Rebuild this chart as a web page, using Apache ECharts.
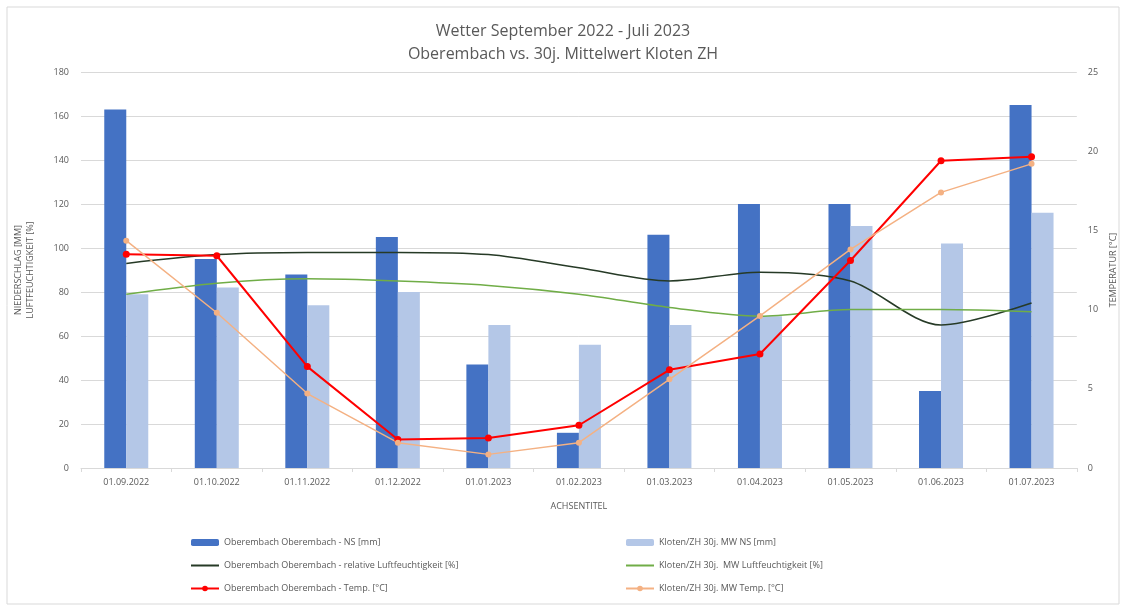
<!DOCTYPE html>
<html><head><meta charset="utf-8">
<script src="https://cdn.jsdelivr.net/npm/echarts@6/dist/echarts.min.js"></script>
<style>html,body{margin:0;padding:0;background:#fff}#c{width:1126px;height:608px}</style>
</head><body><div id="c"></div>
<script>
const categories = ['01.09.2022','01.10.2022','01.11.2022','01.12.2022','01.01.2023','01.02.2023','01.03.2023','01.04.2023','01.05.2023','01.06.2023','01.07.2023'];
const obNS = [163, 95, 88, 105, 47, 16, 106, 120, 120, 35, 165];
const klNS = [79, 82, 74, 80, 65, 56, 65, 69, 110, 102, 116];
const obHum = [93, 97, 98, 98, 97, 91, 85, 89, 85, 65, 75];
const klHum = [79, 84, 86, 85, 83, 79, 73, 69, 72, 72, 71];
const obTemp = [13.5, 13.4, 6.4, 1.8, 1.9, 2.7, 6.2, 7.2, 13.1, 19.4, 19.65];
const klTemp = [14.35, 9.8, 4.7, 1.6, 0.86, 1.6, 5.6, 9.6, 13.8, 17.4, 19.2];
const names = ['Oberembach Oberembach - NS [mm]','Kloten/ZH 30j. MW NS [mm]','Oberembach Oberembach - relative Luftfeuchtigkeit [%]','Kloten/ZH 30j.  MW Luftfeuchtigkeit [%]','Oberembach Oberembach - Temp. [°C]','Kloten/ZH 30j. MW Temp. [°C]'];

const chart = echarts.init(document.getElementById('c'));
const txt = '#595959';
const font = 'Open Sans';
const legText = {fontSize: 9, color: txt, fontFamily: font};
chart.setOption({
  animation: false,
  textStyle: {fontFamily: font},
  graphic: [{type:'rect', shape:{x:7,y:7,width:1112,height:597}, style:{fill:'none', stroke:'#D9D9D9', lineWidth:1}, z:-1}],
  title: {
    text: 'Wetter September 2022 - Juli 2023\nOberembach vs. 30j. Mittelwert Kloten ZH',
    left: 'center', top: 15,
    textStyle: {fontSize: 16, fontWeight: 'normal', color: txt, lineHeight: 23, fontFamily: font}
  },
  legend: [
    {orient:'vertical', left:185, top:533, itemGap:14, itemWidth:28, itemHeight:7,
     data: [names[0], {name: names[2], itemStyle: {opacity: 0}}, names[4]], textStyle: legText},
    {orient:'vertical', left:620, top:533, itemGap:14, itemWidth:28, itemHeight:7,
     data: [names[1], {name: names[3], itemStyle: {opacity: 0}}, names[5]], textStyle: legText}
  ],
  grid: {left: 81, right: 39, top: 72, bottom: 140},
  xAxis: {
    type: 'category', data: categories,
    name: 'ACHSENTITEL', nameLocation: 'middle', nameGap: 34,
    nameTextStyle: {fontSize: 9, color: txt},
    axisLine: {lineStyle: {color: '#D9D9D9'}},
    axisTick: {show: true, length: 4, lineStyle: {color: '#D9D9D9'}},
    axisLabel: {fontSize: 9, color: txt, margin: 10}
  },
  yAxis: [
    {type: 'value', min: 0, max: 180, interval: 20,
     name: 'NIEDERSCHLAG [MM]\nLUFTFEUCHTIGKEIT [%]', nameLocation: 'middle', nameGap: 45, nameRotate: 90,
     nameTextStyle: {fontSize: 9, color: txt, lineHeight: 12},
     axisLabel: {fontSize: 9, color: txt, margin: 12},
     splitLine: {lineStyle: {color: '#D9D9D9'}}, axisLine: {show: false}, axisTick: {show: false}},
    {type: 'value', min: 0, max: 25, interval: 5,
     name: 'TEMPERATUR [°C]', nameLocation: 'middle', nameGap: 30, nameRotate: 90,
     nameTextStyle: {fontSize: 9, color: txt},
     axisLabel: {fontSize: 9, color: txt, margin: 11},
     splitLine: {show: false}, axisLine: {show: false}, axisTick: {show: false}}
  ],
  series: [
    {name: names[0], type: 'bar', data: obNS, barWidth: 22, barGap: '0%', itemStyle: {color: '#4472C4'}},
    {name: names[1], type: 'bar', data: klNS, barWidth: 22, barGap: '0%', itemStyle: {color: '#B4C7E7'}},
    {name: names[2], type: 'line', data: obHum, smooth: 0.3, symbol: 'none', lineStyle: {color: '#263A26', width: 1.5}, itemStyle: {color: '#263A26'}},
    {name: names[3], type: 'line', data: klHum, smooth: 0.3, symbol: 'none', lineStyle: {color: '#70AD47', width: 1.5}, itemStyle: {color: '#70AD47'}},
    {name: names[4], type: 'line', yAxisIndex: 1, data: obTemp, symbol: 'circle', symbolSize: 7, lineStyle: {color: '#FF0000', width: 2}, itemStyle: {color: '#FF0000'}},
    {name: names[5], type: 'line', yAxisIndex: 1, data: klTemp, symbol: 'circle', symbolSize: 6, lineStyle: {color: '#F4B183', width: 1.5}, itemStyle: {color: '#F4B183'}}
  ]
});
</script></body></html>
